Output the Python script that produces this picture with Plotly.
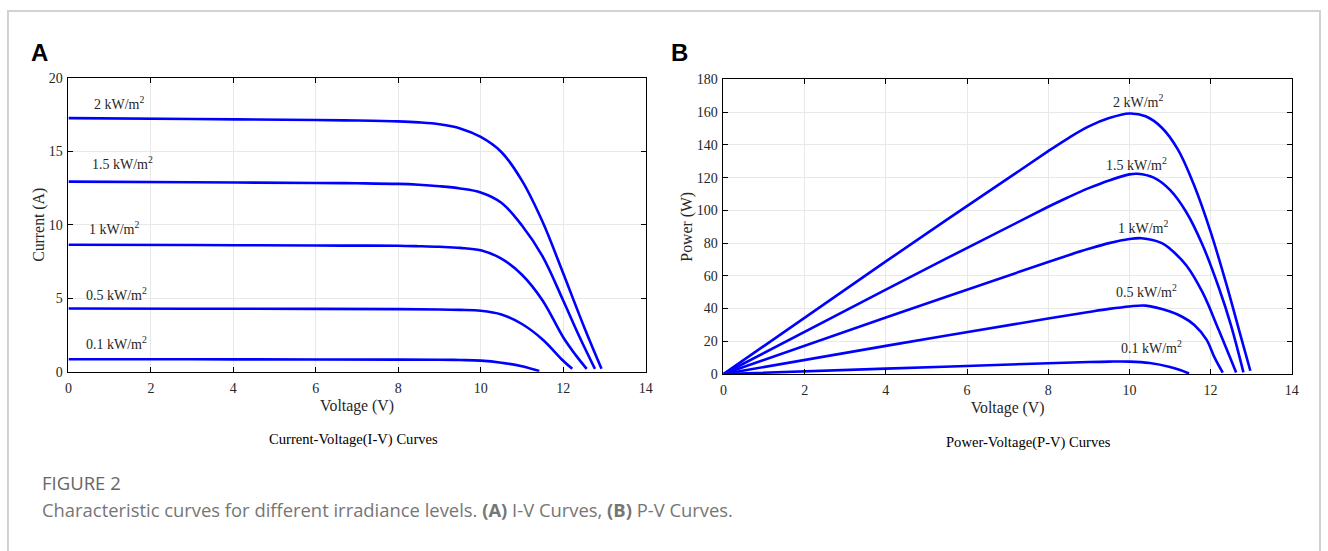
import plotly.graph_objects as go

W, H = 1328, 551

# ---------------- data ----------------
labels = ["2 kW/m<sup>2</sup>", "1.5 kW/m<sup>2</sup>", "1 kW/m<sup>2</sup>",
          "0.5 kW/m<sup>2</sup>", "0.1 kW/m<sup>2</sup>"]

# I-V curves: voltage (V) and current (A)
iv_v_2 = [0, 3, 6, 7, 8, 8.5, 9, 9.5, 10, 10.5, 11, 11.5, 12, 12.5, 12.93]
iv_i_2 = [17.25, 17.19, 17.12, 17.09, 17.03, 16.96, 16.83, 16.55, 15.97, 14.95, 13.0, 10.2, 6.7, 3.1, 0.2]
iv_v_15 = [0, 3, 6, 7, 8, 8.5, 9, 9.5, 10, 10.5, 11, 11.5, 12, 12.4, 12.77]
iv_i_15 = [12.93, 12.89, 12.84, 12.82, 12.78, 12.72, 12.62, 12.47, 12.2, 11.5, 9.95, 7.85, 4.85, 2.35, 0.2]
iv_v_1 = [0, 3, 6, 7, 8, 8.5, 9, 9.5, 10, 10.5, 11, 11.5, 12, 12.3, 12.57]
iv_i_1 = [8.64, 8.62, 8.59, 8.58, 8.57, 8.54, 8.5, 8.43, 8.26, 7.7, 6.6, 4.85, 2.35, 1.15, 0.2]
iv_v_05 = [0, 3, 6, 8, 9, 9.5, 10, 10.5, 11, 11.5, 12, 12.22]
iv_i_05 = [4.3, 4.29, 4.28, 4.26, 4.24, 4.21, 4.15, 3.9, 3.25, 2.2, 0.75, 0.2]
iv_v_01 = [0, 3, 6, 8, 9, 9.5, 10, 10.5, 11, 11.42]
iv_i_01 = [0.85, 0.85, 0.84, 0.83, 0.82, 0.8, 0.76, 0.62, 0.38, 0.05]

# P-V curves: voltage (V) and power (W)
pv_v_2 = [0, 4, 8, 8.5, 9, 9.5, 10, 10.4, 10.8, 11.2, 11.6, 12.0, 12.4, 12.7, 12.98]
pv_p_2 = [0, 68.8, 136.2, 144.2, 151.3, 156.4, 159.2, 157.5, 150.5, 137, 115, 87, 54, 27, 2]
pv_v_15 = [0, 4, 8, 8.5, 9, 9.5, 10, 10.2, 10.6, 11.0, 11.4, 11.8, 12.2, 12.5, 12.81]
pv_p_15 = [0, 51.6, 102.2, 108.1, 113.6, 118.3, 122.0, 122.4, 120, 112.5, 99, 79, 53, 30, 1]
pv_v_1 = [0, 4, 8, 8.5, 9, 9.5, 10, 10.3, 10.8, 11.0, 11.4, 11.8, 12.2, 12.45, 12.63]
pv_p_1 = [0, 34.5, 68.5, 72.6, 76.5, 80.0, 82.5, 83.0, 80, 76.5, 66.5, 50, 27, 12, 1]
pv_v_05 = [0, 4, 8, 9, 9.5, 10, 10.4, 11.0, 11.3, 11.6, 11.9, 12.1, 12.3]
pv_p_05 = [0, 17.2, 33.9, 37.9, 39.8, 41.3, 41.8, 38.2, 35, 30, 21, 10, 0.8]
pv_v_01 = [0, 4, 8, 9, 9.5, 10, 10.5, 11, 11.25, 11.47]
pv_p_01 = [0, 3.3, 6.6, 7.35, 7.6, 7.6, 6.7, 4.3, 2.4, 0.3]

x_ticks = [0, 2, 4, 6, 8, 10, 12, 14]
iv_y_ticks = [0, 5, 10, 15, 20]
pv_y_ticks = [0, 20, 40, 60, 80, 100, 120, 140, 160, 180]

# label anchor positions (data units)
iv_label_x = [1.23, 1.30, 1.11, 1.16, 1.16]
iv_label_y = [18.3, 14.2, 9.8, 5.3, 1.95]
pv_label_x = [10.22, 10.17, 10.35, 10.42, 10.55]
pv_label_y = [167, 128.5, 90, 51, 16.5]

iv_series = [(iv_v_2, iv_i_2), (iv_v_15, iv_i_15), (iv_v_1, iv_i_1),
             (iv_v_05, iv_i_05), (iv_v_01, iv_i_01)]
pv_series = [(pv_v_2, pv_p_2), (pv_v_15, pv_p_15), (pv_v_1, pv_p_1),
             (pv_v_05, pv_p_05), (pv_v_01, pv_p_01)]

BLUE = "#0000ff"
SERIF = "Liberation Serif"

fig = go.Figure()
for v, i in iv_series:
    fig.add_trace(go.Scatter(x=v, y=i, mode="lines", xaxis="x", yaxis="y",
                             line=dict(color=BLUE, width=2.6, shape="spline", smoothing=1.0),
                             showlegend=False, hoverinfo="skip"))
for v, p in pv_series:
    fig.add_trace(go.Scatter(x=v, y=p, mode="lines", xaxis="x2", yaxis="y2",
                             line=dict(color=BLUE, width=2.6, shape="spline", smoothing=1.0),
                             showlegend=False, hoverinfo="skip"))


def px(x):
    return x / W


def py(y):
    return 1 - y / H


axis_common = dict(
    showline=True, linecolor="black", linewidth=1, mirror="ticks",
    ticks="inside", ticklen=5, tickcolor="black", tickwidth=1,
    showgrid=True, gridcolor="#e8e8e8", gridwidth=1, zeroline=False,
    tickfont=dict(family=SERIF, size=14, color="#262626"),
    title_font=dict(family=SERIF, size=15.8, color="#262626"),
)

fig.update_layout(
    width=W, height=H, autosize=False,
    margin=dict(l=0, r=0, t=0, b=0, pad=0),
    paper_bgcolor="white", plot_bgcolor="white",
    xaxis=dict(axis_common, domain=[px(65), px(647)], range=[0, 14],
               tickvals=x_ticks, anchor="y", ticklabelstandoff=3,
               title=dict(text="Voltage (V)", standoff=5)),
    yaxis=dict(axis_common, domain=[py(375), py(72.7)], range=[0, 20],
               tickvals=iv_y_ticks, anchor="x", ticklabelstandoff=2,
               title=dict(text="Current (A)", standoff=0)),
    xaxis2=dict(axis_common, domain=[px(725.5), px(1298.5)], range=[0, 14],
                tickvals=x_ticks, anchor="y2", ticklabelstandoff=3,
                title=dict(text="Voltage (V)", standoff=5)),
    yaxis2=dict(axis_common, domain=[py(377.3), py(74.5)], range=[0, 180],
                tickvals=pv_y_ticks, anchor="x2", ticklabelstandoff=2,
                title=dict(text="Power (W)", standoff=0)),
)

ann = []
for lab, x, y in zip(labels, iv_label_x, iv_label_y):
    ann.append(dict(text=lab, x=x, y=y, xref="x", yref="y", showarrow=False,
                    xanchor="center", yanchor="middle",
                    font=dict(family=SERIF, size=14, color="#262626")))
for lab, x, y in zip(labels, pv_label_x, pv_label_y):
    ann.append(dict(text=lab, x=x, y=y, xref="x2", yref="y2", showarrow=False,
                    xanchor="center", yanchor="middle",
                    font=dict(family=SERIF, size=14, color="#262626")))

paper = dict(xref="paper", yref="paper", showarrow=False, yanchor="middle")
ann += [
    dict(paper, text="Current-Voltage(I-V) Curves", x=px(352), y=py(445), xanchor="center",
         font=dict(family=SERIF, size=14.6, color="black")),
    dict(paper, text="Power-Voltage(P-V) Curves", x=px(1033), y=py(448), xanchor="center",
         font=dict(family=SERIF, size=14.6, color="black")),
    dict(paper, text="<b>A</b>", x=px(25), y=py(47), xanchor="left",
         font=dict(family="Liberation Sans", size=24, color="black")),
    dict(paper, text="<b>B</b>", x=px(671), y=py(47), xanchor="left",
         font=dict(family="Liberation Sans", size=24, color="black")),
    dict(paper, text="FIGURE 2", x=px(36), y=py(489), xanchor="left",
         font=dict(family="Open Sans", size=18.5, color="#666666")),
    dict(paper, text="Characteristic curves for different irradiance levels. <b>(A)</b> I-V Curves, "
                     "<b>(B)</b> P-V Curves.",
         x=px(36), y=py(517), xanchor="left",
         font=dict(family="Open Sans", size=18.4, color="#767676")),
]
fig.update_layout(annotations=ann)

# light page frame
fig.add_shape(type="rect", xref="paper", yref="paper",
              x0=px(4), x1=px(1327), y0=-0.05, y1=py(4),
              line=dict(color="#d2d2d2", width=2), fillcolor="rgba(0,0,0,0)", layer="below")

fig.write_html("out.html", config={"displayModeBar": False},
               post_script="document.documentElement.style.overflow='hidden';"
                           "document.body.style.margin='0';document.body.style.overflow='hidden';")
